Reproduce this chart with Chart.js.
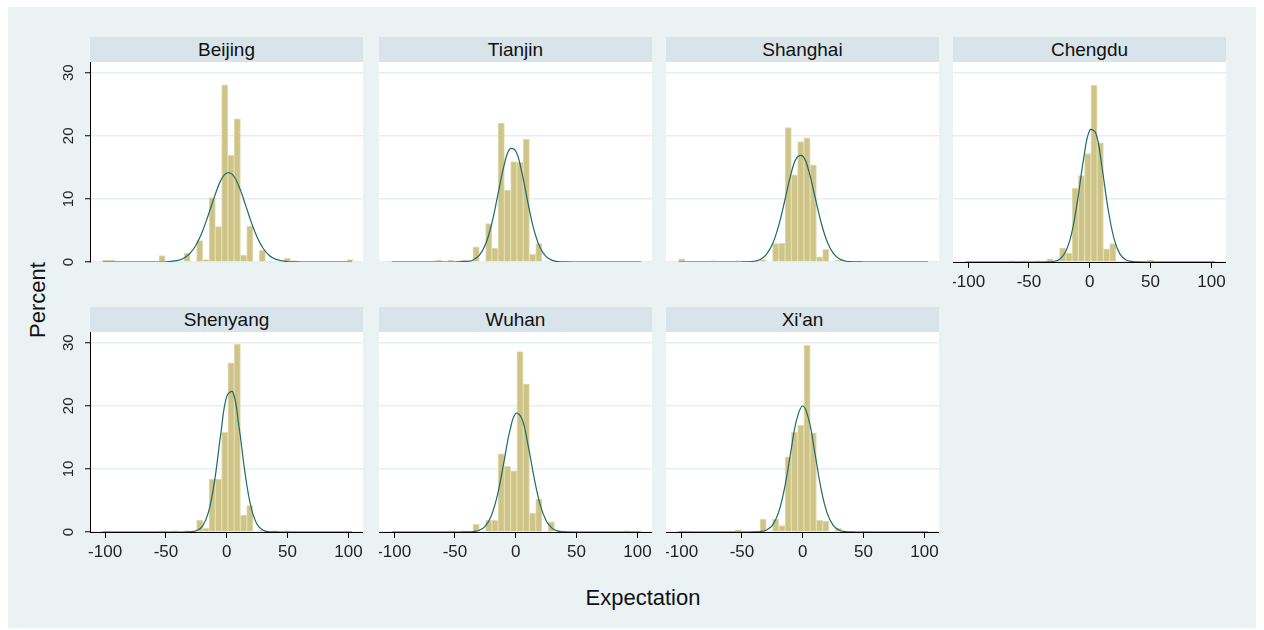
<!DOCTYPE html>
<html>
<head>
<meta charset="utf-8">
<script src="https://cdn.jsdelivr.net/npm/chart.js@4.4.1/dist/chart.umd.min.js"></script>
<style>
body { margin: 0; background: #fff; font-family: "Liberation Sans", Arial, sans-serif; }
#frame { position: absolute; left: 8px; top: 7px; width: 1248px; height: 621px; background: #eaf2f3; }
.head { position: absolute; width: 273px; height: 25px; line-height: 26px; background: #d8e4ea; color: #111; font-size: 19px; text-align: center; }
.panel { position: absolute; }
#ytitle { position: absolute; left: 38px; top: 300px; transform: translate(-50%, -50%) rotate(-90deg); font-size: 22px; color: #111; white-space: nowrap; }
#xtitle { position: absolute; left: 643px; top: 598px; transform: translate(-50%, -50%); font-size: 22px; color: #111; white-space: nowrap; }
</style>
</head>
<body>
<div id="frame"></div>
<div id="ytitle">Percent</div>
<div id="xtitle">Expectation</div>
<script>
// histogram bins (percent per bin), bins shared by all cities
const cities = ['Beijing', 'Tianjin', 'Shanghai', 'Chengdu', 'Shenyang', 'Wuhan', "Xi'an"];
const binCenters = [-99.48, -94.33, -89.18, -84.03, -78.88, -73.73, -68.58, -63.43, -58.28, -53.13,
  -47.98, -42.83, -37.68, -32.53, -27.38, -22.23, -17.08, -11.93, -6.78, -1.63,
  3.53, 8.68, 13.83, 18.98, 24.13, 29.28, 34.43, 39.58, 44.73, 49.88,
  55.03, 60.18, 65.33, 70.48, 75.63, 80.78, 85.93, 91.08, 96.23, 101.38];

const beijing  = [0.25,0.25,0,0,0,0,0,0,0,1.0, 0,0,0,1.4,0,3.4,0.4,10.2,5.6,28.1, 16.9,22.7,1.1,5.7,0,1.9,0,0,0,0.6, 0.2,0,0,0,0,0,0,0,0,0.4];
const tianjin  = [0,0,0,0,0,0,0,0.25,0,0.25, 0,0.25,0,2.4,0,6.1,2.2,22.0,11.4,15.9, 15.8,19.5,1.2,2.9,0,0,0,0,0,0, 0,0,0,0,0,0,0,0,0,0];
const shanghai = [0.5,0,0,0,0,0.2,0,0,0,0.2, 0,0.1,0,0.4,0,2.9,3.0,21.3,13.8,19.1, 19.7,15.4,0.8,2.0,0,0.25,0,0,0,0, 0,0,0,0,0,0,0,0,0,0];
const chengdu  = [0,0,0,0,0,0,0,0.2,0,0.2, 0,0.2,0,0.5,0,2.2,1.4,11.7,13.7,17.2, 28.0,18.9,2.1,2.9,0,0.2,0.2,0,0,0.3, 0,0,0,0,0,0,0,0,0,0];
const shenyang = [0,0,0,0,0,0,0,0,0,0.2, 0,0.2,0,0.2,0,1.9,0.6,8.4,8.4,15.8, 26.8,29.8,2.7,4.2,0,0.3,0,0.2,0,0.2, 0,0,0,0,0,0,0,0,0,0];
const wuhan    = [0,0,0,0,0,0,0,0,0,0.2, 0,0.2,0,1.2,0,1.85,1.85,12.4,10.4,9.7, 28.6,23.5,3.0,5.2,0,1.6,0.2,0.2,0,0, 0,0,0,0,0,0,0,0.2,0,0];
const xian     = [0,0.15,0,0,0,0,0,0,0,0.3, 0,0,0.15,2.0,0,2.0,1.0,11.9,15.8,16.9, 29.6,15.7,1.85,1.75,0,0.6,0,0,0,0.15, 0.15,0,0,0,0,0,0,0,0,0];

// normal density overlay
const curveX = [-102, -60, -50, -40, -35, -30, -25, -20, -15, -10, -5, 0, 5, 10, 15, 20, 25, 30, 35, 40, 50, 60, 103];
const beijingFit  = [0,0.002,0.03,0.26,0.64,1.41,2.78,4.85,7.54,10.4,12.9,14.1,13.8,12.0,9.3,6.4,3.93,2.14,1.04,0.45,0.06,0.003,0];
const tianjinFit  = [0,0,0.003,0.085,0.33,1.04,2.73,5.86,10.35,15.0,17.9,17.6,14.2,9.4,5.1,2.29,0.84,0.25,0.06,0.013,0,0,0];
const shanghaiFit = [0,0,0.007,0.12,0.41,1.17,2.80,5.63,9.55,13.7,16.5,16.8,14.4,10.4,6.34,3.26,1.41,0.52,0.16,0.04,0.001,0,0];
const chengduFit  = [0,0,0,0.001,0.013,0.08,0.41,1.54,4.45,9.78,16.4,20.9,20.4,15.1,8.5,3.68,1.21,0.30,0.06,0.008,0,0,0];
const shenyangFit = [0,0,0,0,0.003,0.03,0.19,0.90,3.15,8.1,15.4,21.5,22.2,16.8,9.4,3.9,1.19,0.27,0.04,0.005,0,0,0];
const wuhanFit    = [0,0,0.001,0.012,0.06,0.27,0.94,2.62,5.9,10.8,15.9,18.8,18.0,13.9,8.7,4.37,1.78,0.58,0.15,0.03,0.001,0,0];
const xianFit     = [0,0,0,0.01,0.06,0.29,1.05,3.03,6.92,12.5,17.8,20.0,17.8,12.5,6.92,3.03,1.05,0.29,0.06,0.01,0,0,0];

const xTicks = [-100, -50, 0, 50, 100];
const yTicks = [0, 10, 20, 30];

const barSets = [beijing, tianjin, shanghai, chengdu, shenyang, wuhan, xian];
const fitSets = [beijingFit, tianjinFit, shanghaiFit, chengduFit, shenyangFit, wuhanFit, xianFit];

const panelLeft = [90, 379, 666, 953];
const rowTop = [62, 332];
const plotW = 273, plotH = 200;

function makePanel(i) {
	const row = i < 4 ? 0 : 1;
	const col = i < 4 ? i : i - 4;
	const isLeft = col === 0;
	const isBottom = row === 1 || col === 3;
	const padL = isLeft ? 60 : 0;
	const padB = isBottom ? 40 : 0;
	// room for the rotated "0" label under a panel with no x axis
	const extraB = (isLeft && !isBottom) ? 12 : 0;

	let head = document.createElement('div');
	head.className = 'head';
	head.style.left = panelLeft[col] + 'px';
	head.style.top = (rowTop[row] - 25) + 'px';
	head.textContent = cities[i];
	document.body.appendChild(head);

	let wrap = document.createElement('div');
	wrap.className = 'panel';
	wrap.style.left = (panelLeft[col] - padL) + 'px';
	wrap.style.top = rowTop[row] + 'px';
	let cv = document.createElement('canvas');
	cv.width = plotW + padL;
	cv.height = plotH + padB + extraB;
	cv.style.width = cv.width + 'px';
	cv.style.height = cv.height + 'px';
	wrap.appendChild(cv);
	document.body.appendChild(wrap);

	// white plot region
	const plotBg = {
		id: 'plotBg',
		beforeDraw(chart) {
			const a = chart.chartArea;
			chart.ctx.save();
			chart.ctx.fillStyle = '#fff';
			chart.ctx.fillRect(a.left, a.top, a.right - a.left, a.bottom - a.top);
			chart.ctx.restore();
		}
	};

	new Chart(cv, {
		data: {
			datasets: [
				{
					type: 'line',
					order: 0,
					data: curveX.map((x, j) => ({x: x, y: fitSets[i][j]})),
					borderColor: '#1e6a6a',
					borderWidth: 1.2,
					pointRadius: 0,
					tension: 0.4,
					fill: false
				},
				{
					type: 'bar',
					order: 1,
					data: binCenters.map((x, j) => ({x: x, y: barSets[i][j]})),
					backgroundColor: '#cec487',
					borderColor: '#e3dcb2',
					borderWidth: 1,
					barPercentage: 1,
					categoryPercentage: 1
				}
			]
		},
		options: {
			responsive: false,
			animation: false,
			layout: {autoPadding: false, padding: {left: 0, right: 0, top: 0, bottom: extraB}},
			plugins: {legend: {display: false}, tooltip: {enabled: false}},
			scales: {
				x: {
					type: 'linear',
					min: -112.4,
					max: 112,
					offset: false,
					display: isBottom,
					afterBuildTicks: (s) => { s.ticks = xTicks.map(v => ({value: v})); },
					afterFit: (s) => { s.height = padB; s.paddingLeft = 0; s.paddingRight = 0; },
					grid: {offset: false, drawOnChartArea: false, drawTicks: true, tickLength: 6, tickColor: '#000', tickWidth: 1},
					border: {display: true, color: '#000', width: 1},
					ticks: {font: {family: 'Liberation Sans', size: 17}, color: '#222', padding: 4, maxRotation: 0, autoSkip: false}
				},
				y: {
					type: 'linear',
					min: 0,
					max: 31.7,
					afterBuildTicks: (s) => { s.ticks = yTicks.map(v => ({value: v})); },
					afterFit: (s) => { s.width = padL; s.paddingTop = 0; s.paddingBottom = 0; },
					grid: {color: '#e6eff0', lineWidth: 1.5, drawTicks: isLeft, tickLength: 5, tickColor: '#000', tickWidth: 1},
					border: {display: isLeft, color: '#000', width: 1},
					ticks: {display: isLeft, font: {family: 'Liberation Sans', size: 15}, color: '#222', minRotation: 90, maxRotation: 90, crossAlign: 'center', padding: 8}
				}
			}
		},
		plugins: [plotBg]
	});
}

cities.forEach((c, i) => makePanel(i));
</script>
</body>
</html>
